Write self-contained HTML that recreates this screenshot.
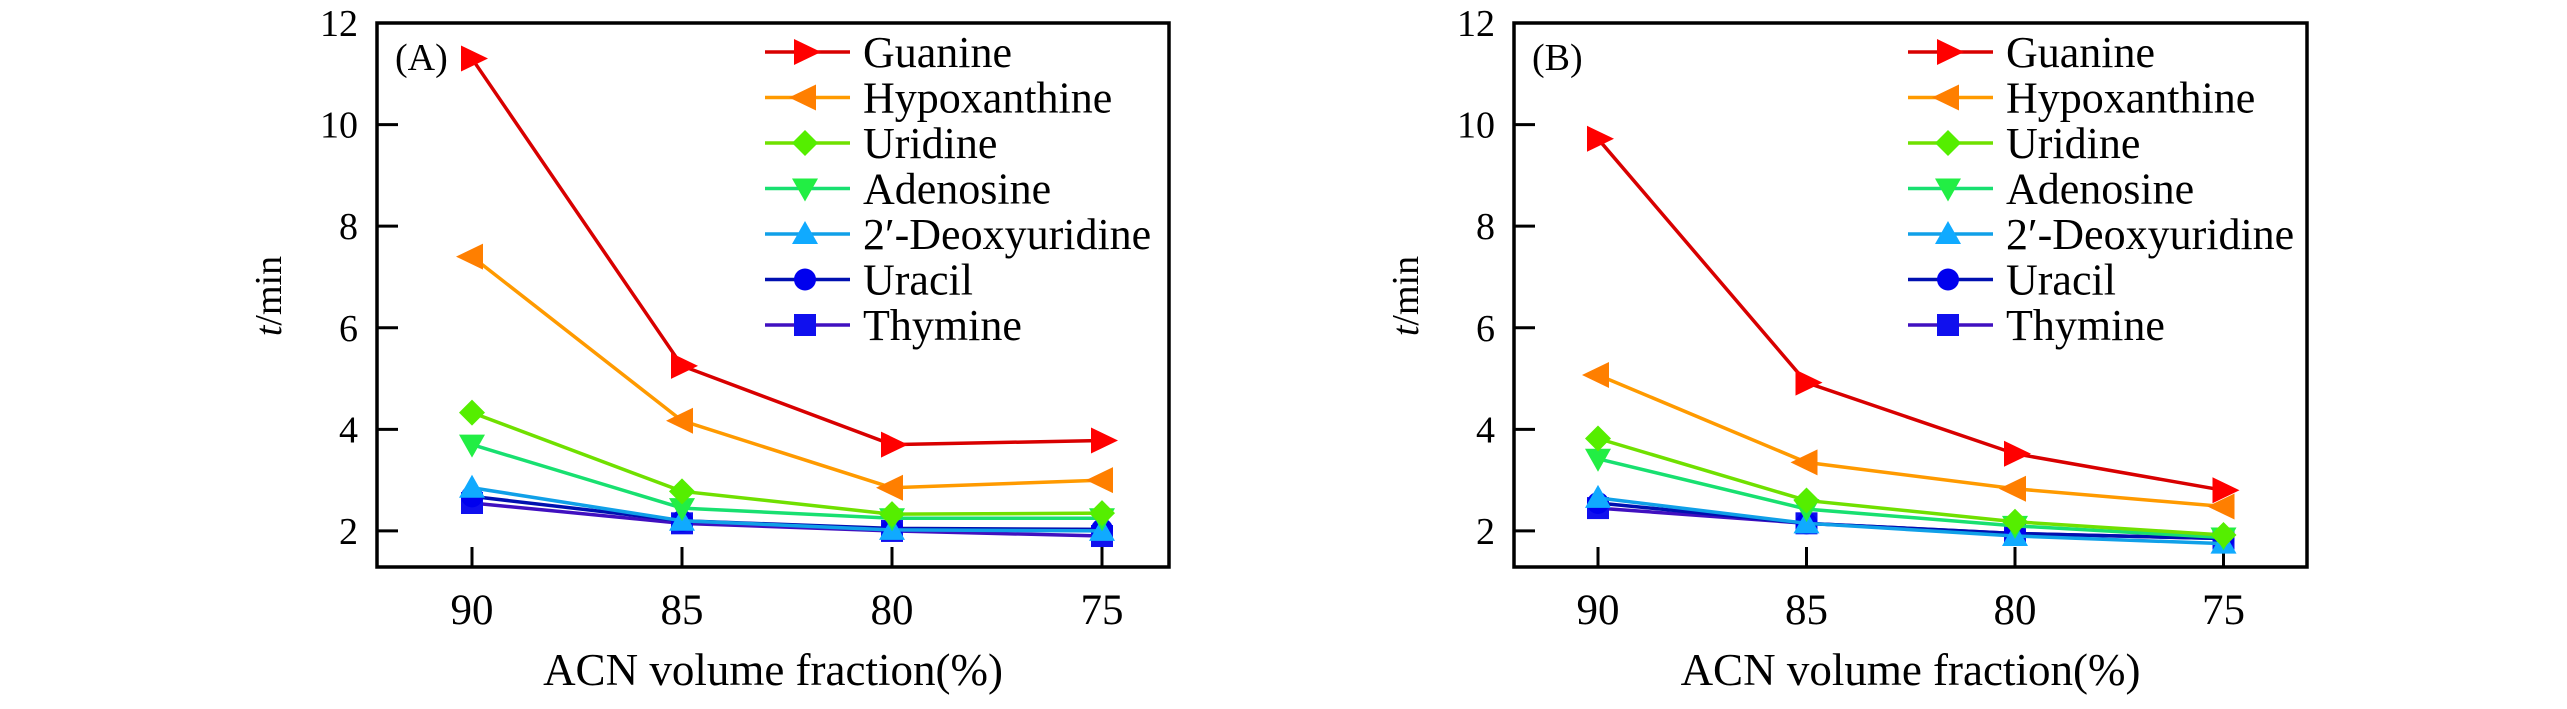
<!DOCTYPE html>
<html><head><meta charset="utf-8"><style>
html,body{margin:0;padding:0;background:#fff;}
svg{display:block;}
svg text{font-family:"Liberation Serif","Times New Roman",serif;}
</style></head><body>
<svg id="chart" width="2567" height="709" viewBox="0 0 2567 709" xmlns="http://www.w3.org/2000/svg" font-family="Liberation Serif, serif"></svg>
<script>
const categories = [90, 85, 80, 75];
const seriesNames = ["Guanine","Hypoxanthine","Uridine","Adenosine","2\u2032-Deoxyuridine","Uracil","Thymine"];
const yTicks = [2,4,6,8,10,12];
const panelA_guanine = [11.3, 5.25, 3.7, 3.78];
const panelA_hypoxanthine = [7.4, 4.17, 2.85, 3.0];
const panelA_uridine = [4.33, 2.78, 2.33, 2.35];
const panelA_adenosine = [3.7, 2.45, 2.25, 2.25];
const panelA_deoxyuridine = [2.85, 2.2, 2.02, 2.0];
const panelA_uracil = [2.68, 2.2, 2.05, 2.03];
const panelA_thymine = [2.55, 2.15, 2.0, 1.9];
const panelB_guanine = [9.72, 4.92, 3.52, 2.8];
const panelB_hypoxanthine = [5.07, 3.35, 2.83, 2.48];
const panelB_uridine = [3.82, 2.6, 2.18, 1.92];
const panelB_adenosine = [3.42, 2.43, 2.1, 1.87];
const panelB_deoxyuridine = [2.65, 2.15, 1.9, 1.75];
const panelB_uracil = [2.55, 2.15, 1.95, 1.85];
const panelB_thymine = [2.45, 2.15, 1.95, 1.85];

const styles = [
 {line:"#d80000", fill:"#ff0000", m:"right"},
 {line:"#ff9a00", fill:"#ff7f00", m:"left"},
 {line:"#70e000", fill:"#55ee00", m:"diamond"},
 {line:"#18e070", fill:"#22ee44", m:"down"},
 {line:"#10a0e8", fill:"#10aaff", m:"up"},
 {line:"#0010b0", fill:"#0000ee", m:"circle"},
 {line:"#4010c0", fill:"#1010ee", m:"square"}
];
const NS="http://www.w3.org/2000/svg";
const FF="Liberation Serif, serif";
const svg=document.getElementById('chart');
function mk(tag,attrs,parent){const e=document.createElementNS(NS,tag);for(const k in attrs)e.setAttribute(k,attrs[k]);if(tag==='text')e.setAttribute('font-family',FF);(parent||svg).appendChild(e);return e;}

function marker(g,type,x,y,fill){
  const s=13;let e;
  if(type==="right") e=mk('polygon',{points:`${x-s+2},${y-s} ${x+s+3},${y} ${x-s+2},${y+s}`,fill:fill},g);
  else if(type==="left") e=mk('polygon',{points:`${x+s-2},${y-s} ${x-s-3},${y} ${x+s-2},${y+s}`,fill:fill},g);
  else if(type==="diamond") e=mk('polygon',{points:`${x},${y-s} ${x+s},${y} ${x},${y+s} ${x-s},${y}`,fill:fill},g);
  else if(type==="down") e=mk('polygon',{points:`${x-s},${y-s+3} ${x+s},${y-s+3} ${x},${y+s}`,fill:fill},g);
  else if(type==="up") e=mk('polygon',{points:`${x-s},${y+s-3} ${x+s},${y+s-3} ${x},${y-s}`,fill:fill},g);
  else if(type==="circle") e=mk('circle',{cx:x,cy:y,r:11,fill:fill},g);
  else e=mk('rect',{x:x-11,y:y-11,width:22,height:22,fill:fill},g);
  return e;
}

function panel(cfg){
  const {left,right,top,bottom,x0,dx,label,data,legX,id}=cfg;
  const g=mk('g',{});
  
  
  const yMin=1.29,yMax=12;
  const ys=v=>bottom-(v-yMin)/(yMax-yMin)*(bottom-top);
  const xs=i=>x0+i*dx;
  yTicks.forEach(t=>{
    const y=ys(t);
    if(t<12){const tk=mk('line',{x1:left,x2:left+21,y1:y,y2:y,stroke:'#000','stroke-width':3},g);
      }
    const tl=mk('text',{x:left-19,y:y+13,'text-anchor':'end','font-size':38},g);tl.textContent=t;
    
  });
  categories.forEach((c,i)=>{
    const x=xs(i);
    const tk=mk('line',{x1:x,x2:x,y1:bottom,y2:bottom-20,stroke:'#000','stroke-width':3},g);
    
    const tl=mk('text',{x:x,y:624,'text-anchor':'middle','font-size':43},g);tl.textContent=c;
    
  });
  for(let s=data.length-1;s>=0;s--){
    const vals=data[s],st=styles[s];
    const sg=mk('g',{},g);
    
    
    const pl=mk('polyline',{points:vals.map((v,i)=>xs(i)+','+ys(v)).join(' '),fill:'none',stroke:st.line,'stroke-width':3.5},sg);
    
    vals.forEach((v,i)=>{const m=marker(sg,st.m,xs(i),ys(v),st.fill);
      });
  }
  const fr=mk('rect',{x:left,y:top,width:right-left,height:bottom-top,fill:'none',stroke:'#000','stroke-width':3.5},g);
  
  const lg=mk('g',{},g);
  
  seriesNames.forEach((n,i)=>{
    const y=52+i*45.5,st=styles[i];
    const eg=mk('g',{},lg);
    
    mk('line',{x1:legX,x2:legX+85,y1:y,y2:y,stroke:st.line,'stroke-width':3.5},eg);
    marker(eg,st.m,legX+40,y,st.fill);
    const t=mk('text',{x:legX+98,y:y+15,'font-size':44},eg);t.textContent=n;
  });
  const pl=mk('text',{x:left+18,y:70,'font-size':38},g);pl.textContent=label;
  
  const yt=mk('text',{x:0,y:0,'font-size':38,'text-anchor':'middle',transform:`translate(${left-96},296) rotate(-90)`},g);
  yt.innerHTML='<tspan font-style="italic">t</tspan>/min';
  
  const xt=mk('text',{x:(left+right)/2,y:685,'font-size':45,'text-anchor':'middle'},g);xt.textContent='ACN volume fraction(%)';
  
}
panel({id:'a',left:377,right:1169,top:23,bottom:567,x0:472,dx:210,label:'(A)',legX:765,
  data:[panelA_guanine,panelA_hypoxanthine,panelA_uridine,panelA_adenosine,panelA_deoxyuridine,panelA_uracil,panelA_thymine]});
panel({id:'b',left:1514,right:2307,top:23,bottom:567,x0:1598,dx:208.5,label:'(B)',legX:1908,
  data:[panelB_guanine,panelB_hypoxanthine,panelB_uridine,panelB_adenosine,panelB_deoxyuridine,panelB_uracil,panelB_thymine]});
</script>
</body></html>
